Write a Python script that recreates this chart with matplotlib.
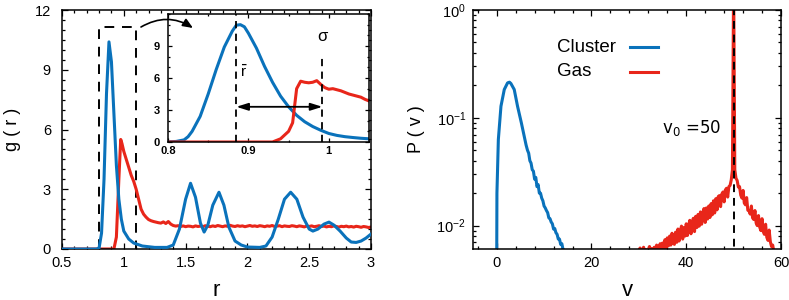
import numpy as np
import matplotlib
matplotlib.use('Agg')
import matplotlib.pyplot as plt
from matplotlib.lines import Line2D
from matplotlib.ticker import MultipleLocator, LogLocator, NullFormatter, FuncFormatter

plt.rcParams['font.family'] = ['Liberation Sans', 'DejaVu Sans']
plt.rcParams['mathtext.fontset'] = 'dejavusans'

BLUE = '#0a72bb'
RED = '#e8261a'

# g(r), cluster, main panel
r_clu = [0.50, 0.78, 0.80, 0.82, 0.84, 0.86, 0.88, 0.90, 0.92, 0.94, 0.96, 0.98, 1.00,
         1.04, 1.08, 1.15, 1.25, 1.35, 1.40, 1.45, 1.50, 1.54, 1.58, 1.62, 1.65, 1.68,
         1.72, 1.77, 1.81, 1.85, 1.90, 1.95, 2.00, 2.10, 2.15, 2.20, 2.25, 2.30, 2.35,
         2.40, 2.45, 2.50, 2.53, 2.57, 2.62, 2.66, 2.70, 2.75, 2.80, 2.84, 2.88, 2.92,
         2.96, 3.00]
g_clu = [0.00, 0.00, 0.05, 0.80, 3.50, 7.80, 10.40, 9.40, 6.80, 4.20, 2.50, 1.50, 0.90,
         0.50, 0.30, 0.15, 0.08, 0.08, 0.20, 1.00, 2.50, 3.30, 2.60, 1.30, 0.85, 1.20,
         2.20, 2.85, 2.20, 1.10, 0.40, 0.20, 0.10, 0.08, 0.15, 0.60, 1.50, 2.50, 2.85,
         2.50, 1.60, 1.00, 0.90, 1.00, 1.25, 1.35, 1.20, 0.90, 0.55, 0.35, 0.33, 0.40,
         0.55, 0.75]

# g(r), gas, main panel
r_gas_head = [0.50, 0.92, 0.94, 0.96, 0.975, 0.985, 1.00, 1.02, 1.04, 1.06, 1.08, 1.10,
              1.12, 1.14, 1.16, 1.18, 1.20, 1.22, 1.24, 1.26, 1.28, 1.30, 1.32, 1.34,
              1.36, 1.38]
g_gas_head = [0.00, 0.00, 0.60, 3.50, 5.50, 5.30, 4.90, 4.50, 4.10, 3.70, 3.40, 3.00,
              2.50, 2.00, 1.75, 1.60, 1.48, 1.42, 1.38, 1.35, 1.32, 1.30, 1.36, 1.28,
              1.38, 1.25]
g_gas_tail = [1.18, 1.15, 1.17, 1.13, 1.16, 1.12, 1.15, 1.14, 1.11, 1.16,
              1.13, 1.15, 1.12, 1.17, 1.14, 1.12, 1.16, 1.13, 1.18, 1.15,
              1.12, 1.16, 1.14, 1.19, 1.15, 1.13, 1.17, 1.14, 1.16, 1.12,
              1.15, 1.18, 1.14, 1.16, 1.13, 1.17, 1.15, 1.12, 1.16, 1.14,
              1.18, 1.13, 1.15, 1.17, 1.12, 1.16, 1.14, 1.13, 1.17, 1.15,
              1.12, 1.16, 1.14, 1.11, 1.15, 1.13, 1.16, 1.12, 1.14, 1.17,
              1.13, 1.15, 1.11, 1.14, 1.12, 1.16, 1.13, 1.10, 1.14, 1.12,
              1.15, 1.11, 1.13, 1.10, 1.14, 1.12, 1.09, 1.13, 1.11, 1.08, 1.10]
r_gas_tail = np.linspace(1.40, 3.00, len(g_gas_tail))

# inset
r_in_clu = [0.80, 0.81, 0.82, 0.825, 0.83, 0.84, 0.85, 0.86, 0.87, 0.88, 0.885, 0.89,
            0.895, 0.90, 0.91, 0.92, 0.93, 0.94, 0.95, 0.96, 0.97, 0.98, 0.99, 1.00,
            1.01, 1.02, 1.03, 1.04, 1.05]
g_in_clu = [0.02, 0.05, 0.20, 0.50, 1.00, 2.40, 4.50, 6.80, 8.90, 10.40, 10.95, 11.00,
            10.80, 10.20, 8.80, 7.10, 5.60, 4.30, 3.30, 2.50, 1.90, 1.45, 1.10, 0.80,
            0.62, 0.50, 0.42, 0.35, 0.30]
r_in_gas = [0.80, 0.93, 0.94, 0.95, 0.955, 0.96, 0.965, 0.97, 0.975, 0.98, 0.985, 0.99,
            0.995, 1.00, 1.005, 1.01, 1.015, 1.02, 1.025, 1.03, 1.035, 1.04, 1.045, 1.05]
g_in_gas = [0.00, 0.00, 0.30, 1.00, 1.80, 5.00, 5.70, 5.60, 5.55, 5.60, 5.75, 5.40,
            5.10, 4.95, 5.00, 4.90, 4.80, 4.65, 4.50, 4.40, 4.30, 4.20, 4.00, 3.85]
r_bar = 0.885
r_sigma = 0.992

# P(v)
v_clu = [0.0, 0.05, 0.35, 0.9, 1.6, 2.3, 2.7, 3.0, 3.7, 4.4, 5.2, 6.2,
         6.50, 6.75, 7.00, 7.25, 7.50, 7.75, 8.00, 8.25, 8.50, 8.75, 9.00, 9.25,
         9.50, 9.75, 10.0, 10.25, 10.5, 10.75, 11.0, 11.25, 11.5, 11.75, 12.0,
         12.25, 12.5, 12.75, 13.0, 13.25, 13.5, 13.75, 14.0, 14.25, 14.5]
p_clu = [0.004, 0.02, 0.063, 0.128, 0.183, 0.211, 0.214, 0.208, 0.183, 0.128, 0.090, 0.056,
         0.050, 0.047, 0.040, 0.038, 0.033, 0.032, 0.027, 0.028, 0.023, 0.024, 0.020, 0.020,
         0.018, 0.017, 0.0152, 0.0146, 0.0138, 0.0132, 0.0118, 0.0116, 0.0108, 0.0104, 0.0093,
         0.0094, 0.0086, 0.0083, 0.0075, 0.0075, 0.0067, 0.0068, 0.0060, 0.0059, 0.0055]

p_gas = [0.0058, 0.0062, 0.0055, 0.0059, 0.0063, 0.0057, 0.0060, 0.0056, 0.0059, 0.0064,
         0.0058, 0.0061, 0.0057, 0.0063, 0.0059, 0.0066, 0.0058, 0.0063, 0.0068, 0.0060,
         0.0069, 0.0060, 0.0074, 0.0062, 0.0077, 0.0065, 0.0080, 0.0066, 0.0085, 0.0069,
         0.0067, 0.0087, 0.0070, 0.0093, 0.0072, 0.0089, 0.0099, 0.0075, 0.0096, 0.0080,
         0.0104, 0.0081, 0.0100, 0.0112, 0.0084, 0.0107, 0.0117, 0.0088, 0.0122, 0.0096,
         0.0127, 0.0099, 0.0134, 0.0103, 0.0131, 0.0144, 0.0107, 0.0146, 0.0115, 0.0152,
         0.0119, 0.0160, 0.0126, 0.0170, 0.0131, 0.0178, 0.0140, 0.0186, 0.0190, 0.0150,
         0.0196, 0.0205, 0.0166, 0.0214, 0.0222, 0.0184, 0.0230, 0.0236, 0.0265, 0.0330,
         2.0,
         0.0330, 0.0275, 0.0262, 0.0228, 0.0230, 0.0192, 0.0180, 0.0212, 0.0162, 0.0156,
         0.0182, 0.0139, 0.0137, 0.0128, 0.0152, 0.0118, 0.0114, 0.0138, 0.0106,
         0.0100, 0.0124, 0.0097, 0.0090, 0.0116, 0.0088, 0.0083, 0.0103, 0.0078, 0.0073,
         0.0091, 0.0071, 0.0064, 0.0066, 0.0057]
v_gas = np.linspace(30.0, 58.5, len(p_gas))
v0 = 50

W, H = 789, 300
fig = plt.figure(figsize=(W / 100, H / 100), dpi=100)


def px_axes(x0, y0, x1, y1):
    return fig.add_axes([x0 / W, 1 - y1 / H, (x1 - x0) / W, (y1 - y0) / H])


def style(ax, size=10.5, major=4.5, minor=2.5, pad=5):
    ax.tick_params(which='both', direction='in', top=True, right=True,
                   labelsize=size, width=0.9, pad=pad)
    ax.tick_params(which='major', length=major)
    ax.tick_params(which='minor', length=minor)
    for s in ax.spines.values():
        s.set_linewidth(1.1)


def fmt(x, p):
    return f'{x:g}'


lw = 2.2

# ---- left panel
ax1 = px_axes(62, 10, 371, 249)
ax1.plot([0.8, 0.8, 1.1, 1.1], [0, 11.15, 11.15, 0], color='black', lw=1.4,
         dashes=(5, 4), zorder=1)
ax1.plot(r_clu, g_clu, color=BLUE, lw=lw, zorder=3)
ax1.plot(r_gas_head + list(r_gas_tail), g_gas_head + g_gas_tail, color=RED, lw=lw, zorder=2)
ax1.set_xlim(0.5, 3)
ax1.set_ylim(0, 12)
ax1.xaxis.set_major_locator(MultipleLocator(0.5))
ax1.xaxis.set_minor_locator(MultipleLocator(0.1))
ax1.yaxis.set_major_locator(MultipleLocator(3))
ax1.yaxis.set_minor_locator(MultipleLocator(0.5))
ax1.xaxis.set_major_formatter(FuncFormatter(fmt))
style(ax1)
ax1.tick_params(axis='y', pad=8)
ax1.set_xlabel('r', fontsize=16, labelpad=7)
ax1.set_ylabel('g ( r )', fontsize=13, labelpad=10)

# ---- inset
axi = px_axes(168, 14, 369, 142)
axi.plot(r_in_clu, g_in_clu, color=BLUE, lw=lw)
axi.plot(r_in_gas, g_in_gas, color=RED, lw=lw)
axi.plot([r_bar, r_bar], [0, 12], color='black', lw=1.3, dashes=(4, 3))
axi.plot([r_sigma, r_sigma], [0, 8], color='black', lw=1.3, dashes=(4, 3))
axi.annotate('', xy=(r_bar, 3.3), xytext=(r_sigma, 3.3),
             arrowprops=dict(arrowstyle='<|-|>,head_length=0.7,head_width=0.22',
                             color='black', lw=1.3, shrinkA=0, shrinkB=0))
axi.text(r_bar + 0.004, 6.6, r'$\bar{\mathregular{r}}$', fontsize=11, ha='left', va='center')
axi.text(r_sigma, 9.9, 'σ', fontsize=12, ha='center', va='center')
axi.set_xlim(0.8, 1.05)
axi.set_ylim(0, 12)
axi.set_yticks([0, 3, 6, 9])
axi.xaxis.set_major_locator(MultipleLocator(0.1))
axi.xaxis.set_minor_locator(MultipleLocator(0.05))
axi.yaxis.set_minor_locator(MultipleLocator(1))
axi.xaxis.set_major_formatter(FuncFormatter(fmt))
style(axi, size=8, major=3, minor=1.5, pad=3)
axi.tick_params(axis='y', pad=6)
for lab in axi.get_xticklabels() + axi.get_yticklabels():
    lab.set_fontweight('bold')

# curved arrow from the dashed box into the inset, drawn above the inset
axi.annotate('', xy=(193 / W, 1 - 28 / H), xycoords='figure fraction',
             xytext=(141 / W, 1 - 27 / H), textcoords='figure fraction',
             annotation_clip=False, zorder=10,
             arrowprops=dict(arrowstyle='-|>,head_length=0.6,head_width=0.25',
                             color='black', lw=1.2, shrinkA=0, shrinkB=0,
                             connectionstyle='arc3,rad=-0.3'))

# ---- right panel
ax2 = px_axes(473, 10, 781, 249)
ax2.plot(v_clu, p_clu, color=BLUE, lw=lw)
ax2.plot(v_gas, p_gas, color=RED, lw=lw)
ax2.plot([v0, v0], [1e-3, 1], color='black', lw=1.4, dashes=(4, 3))
ax2.set_yscale('log')
ax2.set_xlim(-5, 60)
ax2.set_ylim(0.00607, 1)
ax2.xaxis.set_major_locator(MultipleLocator(20))
ax2.xaxis.set_minor_locator(MultipleLocator(4))
ax2.yaxis.set_major_locator(LogLocator(base=10, numticks=10))
ax2.yaxis.set_minor_locator(LogLocator(base=10, subs=np.arange(2, 10), numticks=10))
ax2.yaxis.set_minor_formatter(NullFormatter())
style(ax2)
ax2.set_xlabel('v', fontsize=16, labelpad=7)
ax2.set_ylabel('P ( v )', fontsize=13, labelpad=8)
ax2.text(692 / W, 1 - 128 / H, r'v$_0$ =50', transform=fig.transFigure,
         fontsize=12, family='DejaVu Sans', ha='center', va='center')

# key: text on the left, sample line on the right
for name, col, ypx in [('Cluster', BLUE, 47), ('Gas', RED, 72)]:
    fig.text(557 / W, 1 - ypx / H, name, fontsize=13.5, ha='left', va='center')
    fig.add_artist(Line2D([630 / W, 658 / W], [1 - ypx / H, 1 - ypx / H],
                          color=col, lw=lw))

fig.savefig('out.png', dpi=100)
